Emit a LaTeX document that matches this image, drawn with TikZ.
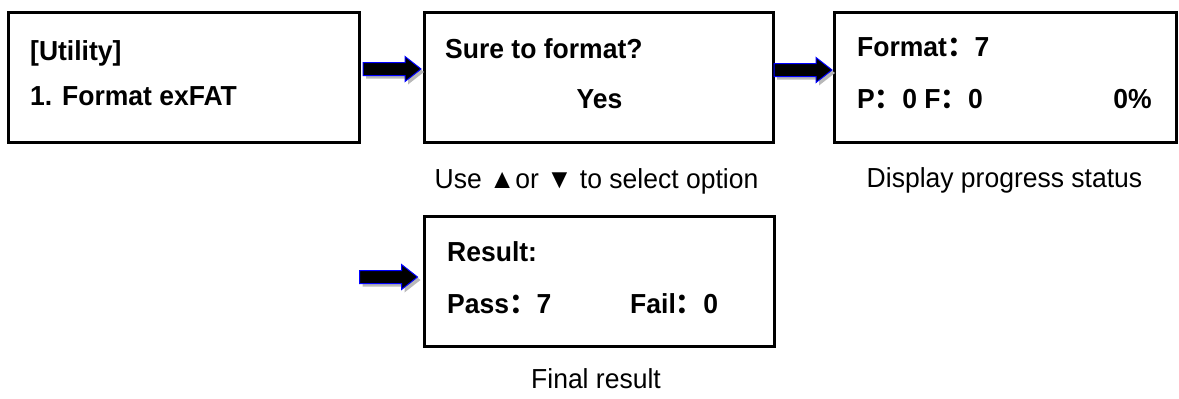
\documentclass[tikz,border=0pt]{standalone}
\usepackage{fontspec}
\setmainfont{Liberation Sans}[FakeStretch=0.964]
\newfontfamily\cjk{Noto Sans CJK SC}
\usetikzlibrary{calc}
\newcommand{\fc}{{\cjk ：}}
\begin{document}
\begin{tikzpicture}[x=1pt,y=-1pt,
  lcd/.style={draw=black,line width=3pt,inner sep=0pt,minimum width=350pt,minimum height=130pt},
  lcdtxt/.style={font=\fontsize{27.5}{30}\selectfont\bfseries,inner sep=0pt,anchor=base west},
  captxt/.style={font=\fontsize{27.5}{30}\selectfont,inner sep=0pt,anchor=base},
  blockarr/.pic={
    \fill[black!28,shift={(3,3)}] (-58,-6.5) -- (-16,-6.5) -- (-16,-12.5) -- (0,0) -- (-16,12.5) -- (-16,6.5) -- (-58,6.5) -- cycle;
    \filldraw[fill=black,draw=blue,line width=1pt,line join=miter] (-58,-6.5) -- (-16,-6.5) -- (-16,-12.5) -- (0,0) -- (-16,12.5) -- (-16,6.5) -- (-58,6.5) -- cycle;
  }]
\useasboundingbox (0,0) rectangle (1179,399);
% boxes
\node[lcd,minimum width=350.5pt] (b1) at (183.75,77) {};
\node[lcd,minimum width=349pt] (b2) at (598.5,77) {};
\node[lcd,minimum width=342pt] (b3) at (1005,77) {};
\node[lcd,minimum width=350pt] (b4) at (599,281) {};
% box texts
\node[lcdtxt] (t11) at (30,60) {[Utility]};
\node[lcdtxt] (t12) at (30,105) {1. Format exFAT};
\node[lcdtxt] (t21) at (445,58) {Sure to format?};
\node[lcdtxt,anchor=base] (t22) at (599.5,108) {Yes};
\node[lcdtxt] (t31) at (857,56) {Format\fc 7};
\node[lcdtxt] (t32) at (857,108) {P\fc 0 F\fc 0};
\node[lcdtxt,anchor=base east] (t33) at (1152,108) {0\%};
\node[lcdtxt] (t41) at (447,261) {Result:};
\node[lcdtxt] (t42) at (447,313) {Pass\fc 7};
\node[lcdtxt] (t43) at (630,313) {Fail\fc 0};
% captions
\node[captxt] (c2) at (596.5,188) {Use ▲or ▼ to select option};
\node[captxt] (c3) at (1004.5,187) {Display progress status};
\node[captxt] (c4) at (596,388) {Final result};
% arrows
\coordinate (a1) at ($(b2.west)+(-1.5,-8)$);
\coordinate (a2) at ($(b3.west)+(-0.5,-7)$);
\coordinate (a3) at ($(b4.west)+(-5,-4)$);
\pic at (a1) {blockarr};
\pic at (a2) {blockarr};
\pic at (a3) {blockarr};
\end{tikzpicture}
\end{document}
